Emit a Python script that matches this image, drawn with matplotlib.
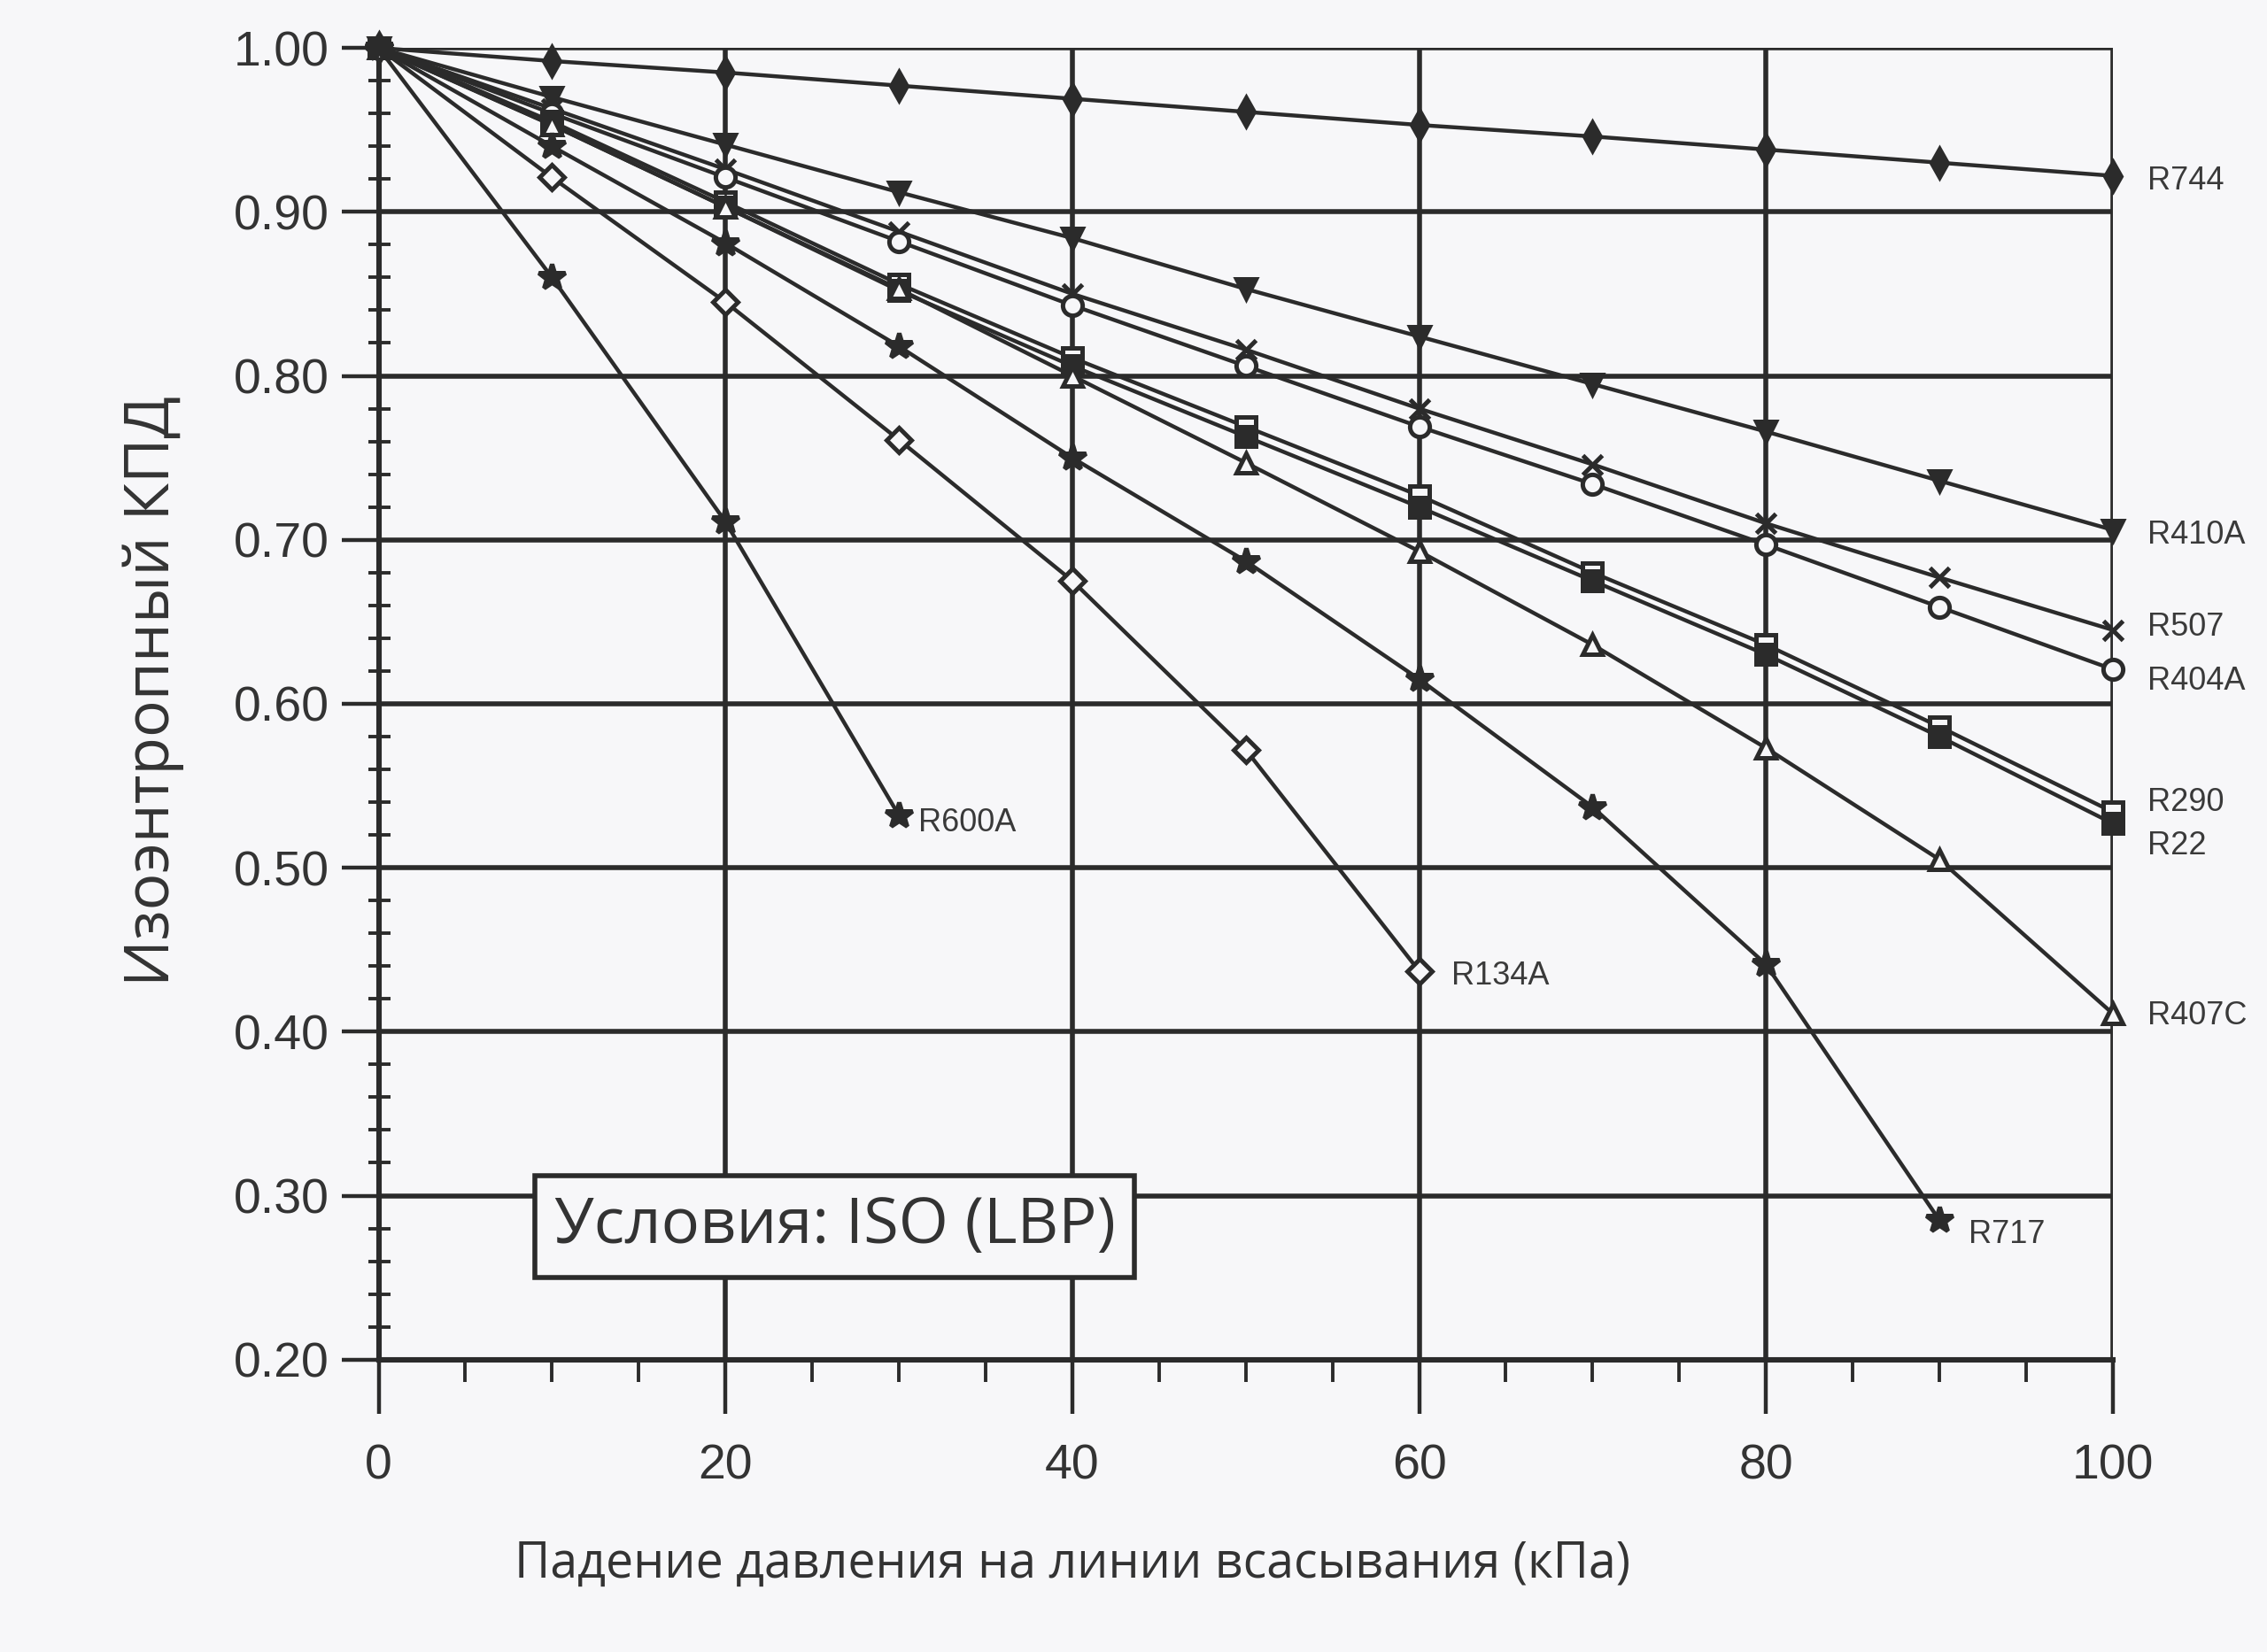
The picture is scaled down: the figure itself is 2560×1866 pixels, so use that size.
import matplotlib
matplotlib.use("Agg")
import matplotlib.pyplot as plt
from matplotlib import font_manager
from matplotlib.ticker import MultipleLocator

#%% Data
x_full = [0, 10, 20, 30, 40, 50, 60, 70, 80, 90, 100]

r744 = [1.00, 0.992, 0.985, 0.977, 0.969, 0.961, 0.953, 0.946, 0.938, 0.930, 0.922]
r410a = [1.00, 0.970, 0.941, 0.912, 0.884, 0.853, 0.824, 0.795, 0.766, 0.736, 0.706]
r507 = [1.00, 0.963, 0.926, 0.888, 0.850, 0.816, 0.780, 0.746, 0.710, 0.677, 0.645]
r404a = [1.00, 0.960, 0.921, 0.882, 0.843, 0.806, 0.769, 0.734, 0.697, 0.659, 0.621]
r290 = [1.00, 0.955, 0.906, 0.856, 0.811, 0.769, 0.727, 0.680, 0.636, 0.586, 0.534]
r22 = [1.00, 0.953, 0.903, 0.852, 0.806, 0.763, 0.720, 0.675, 0.630, 0.580, 0.527]
r407c = [1.00, 0.953, 0.903, 0.853, 0.800, 0.747, 0.693, 0.636, 0.573, 0.505, 0.411]

x_r717 = [0, 10, 20, 30, 40, 50, 60, 70, 80, 90]
r717 = [1.00, 0.940, 0.881, 0.818, 0.750, 0.687, 0.615, 0.537, 0.441, 0.285]

x_r134a = [0, 10, 20, 30, 40, 50, 60]
r134a = [1.00, 0.921, 0.845, 0.761, 0.675, 0.572, 0.437]

x_r600a = [0, 10, 20, 30]
r600a = [1.00, 0.860, 0.711, 0.532]

x_ticks = [0, 20, 40, 60, 80, 100]
y_ticks = [0.20, 0.30, 0.40, 0.50, 0.60, 0.70, 0.80, 0.90, 1.00]

#%% Fonts
names = set(f.name for f in font_manager.fontManager.ttflist)
tick_font = "Liberation Sans Narrow" if "Liberation Sans Narrow" in names else "Liberation Sans"
label_font = "Open Sans"

ink = "#2b2b2b"
bg = "#f7f7f9"

fig = plt.figure(figsize=(12.8, 9.33), dpi=200, facecolor=bg)
ax = fig.add_axes([0.167, 0.177, 0.765, 0.794], facecolor=bg)

# series: (x, y, name, marker, filled, label offset in points)
series = [
    (x_full, r744, "R744", "d", True, (14, -2)),
    (x_full, r410a, "R410A", "v", True, (14, -2)),
    (x_full, r507, "R507", "x", True, (14, 1)),
    (x_full, r404a, "R404A", "o", False, (14, -5)),
    (x_full, r290, "R290", "s", False, (14, 4)),
    (x_full, r22, "R22", "s", True, (14, -9)),
    (x_full, r407c, "R407C", "^", False, (14, -1)),
    (x_r717, r717, "R717", "*", True, (12, -6)),
    (x_r134a, r134a, "R134A", "D", False, (13, -2)),
    (x_r600a, r600a, "R600A", "*", True, (8, -3)),
]

for xs, ys, name, mk, filled, off in series:
    ms = 11 if mk == "*" else 8
    if mk == "D":
        ms = 7
    ax.plot(xs, ys, color=ink, lw=1.6, marker=mk, ms=ms,
            mfc=ink if filled else bg, mec=ink, mew=1.8, clip_on=False, zorder=3)
    ax.annotate(name, (xs[-1], ys[-1]), xytext=off, textcoords="offset points",
                ha="left", va="center", fontsize=13, color="#3a3a3a",
                family=tick_font, annotation_clip=False)

#%% Axes, ticks and grid
ax.set_xlim(0, 100)
ax.set_ylim(0.20, 1.00)
ax.set_xticks(x_ticks)
ax.set_yticks(y_ticks)
ax.set_yticklabels(["%.2f" % v for v in y_ticks])
ax.xaxis.set_minor_locator(MultipleLocator(5))
ax.yaxis.set_minor_locator(MultipleLocator(0.02))

ax.grid(which="major", color=ink, lw=2.0)
ax.set_axisbelow(True)
for s in ["top", "right"]:
    ax.spines[s].set_visible(False)
for s in ["left", "bottom"]:
    ax.spines[s].set_color(ink)
    ax.spines[s].set_linewidth(2.2)

ax.tick_params(axis="x", which="major", direction="out", length=22, width=1.6,
               color=ink, pad=12, labelsize=20, labelcolor="#333333")
ax.tick_params(axis="x", which="minor", direction="out", length=9, width=1.4, color=ink)
ax.tick_params(axis="y", which="major", direction="out", length=15, width=1.6,
               color=ink, pad=5, labelsize=20, labelcolor="#333333")
ax.tick_params(axis="y", which="minor", direction="inout", length=9, width=1.4, color=ink)
for lab in ax.get_xticklabels() + ax.get_yticklabels():
    lab.set_family(tick_font)

ax.set_xlabel("Падение давления на линии всасывания (кПа)", fontsize=20,
              family=label_font, color="#333333")
ax.xaxis.set_label_coords(0.40, -0.137)
ax.set_ylabel("Изоэнтропный КПД", fontsize=25, family=label_font, color="#333333")
ax.yaxis.set_label_coords(-0.112, 0.51)

ax.text(26.3, 0.281, "Условия: ISO (LBP)", ha="center", va="center", fontsize=26,
        family=label_font, color="#333333", zorder=5,
        bbox=dict(boxstyle="square,pad=0.3", fc=bg, ec=ink, lw=2.0))

fig.savefig("out.png", dpi=200, facecolor=bg)
